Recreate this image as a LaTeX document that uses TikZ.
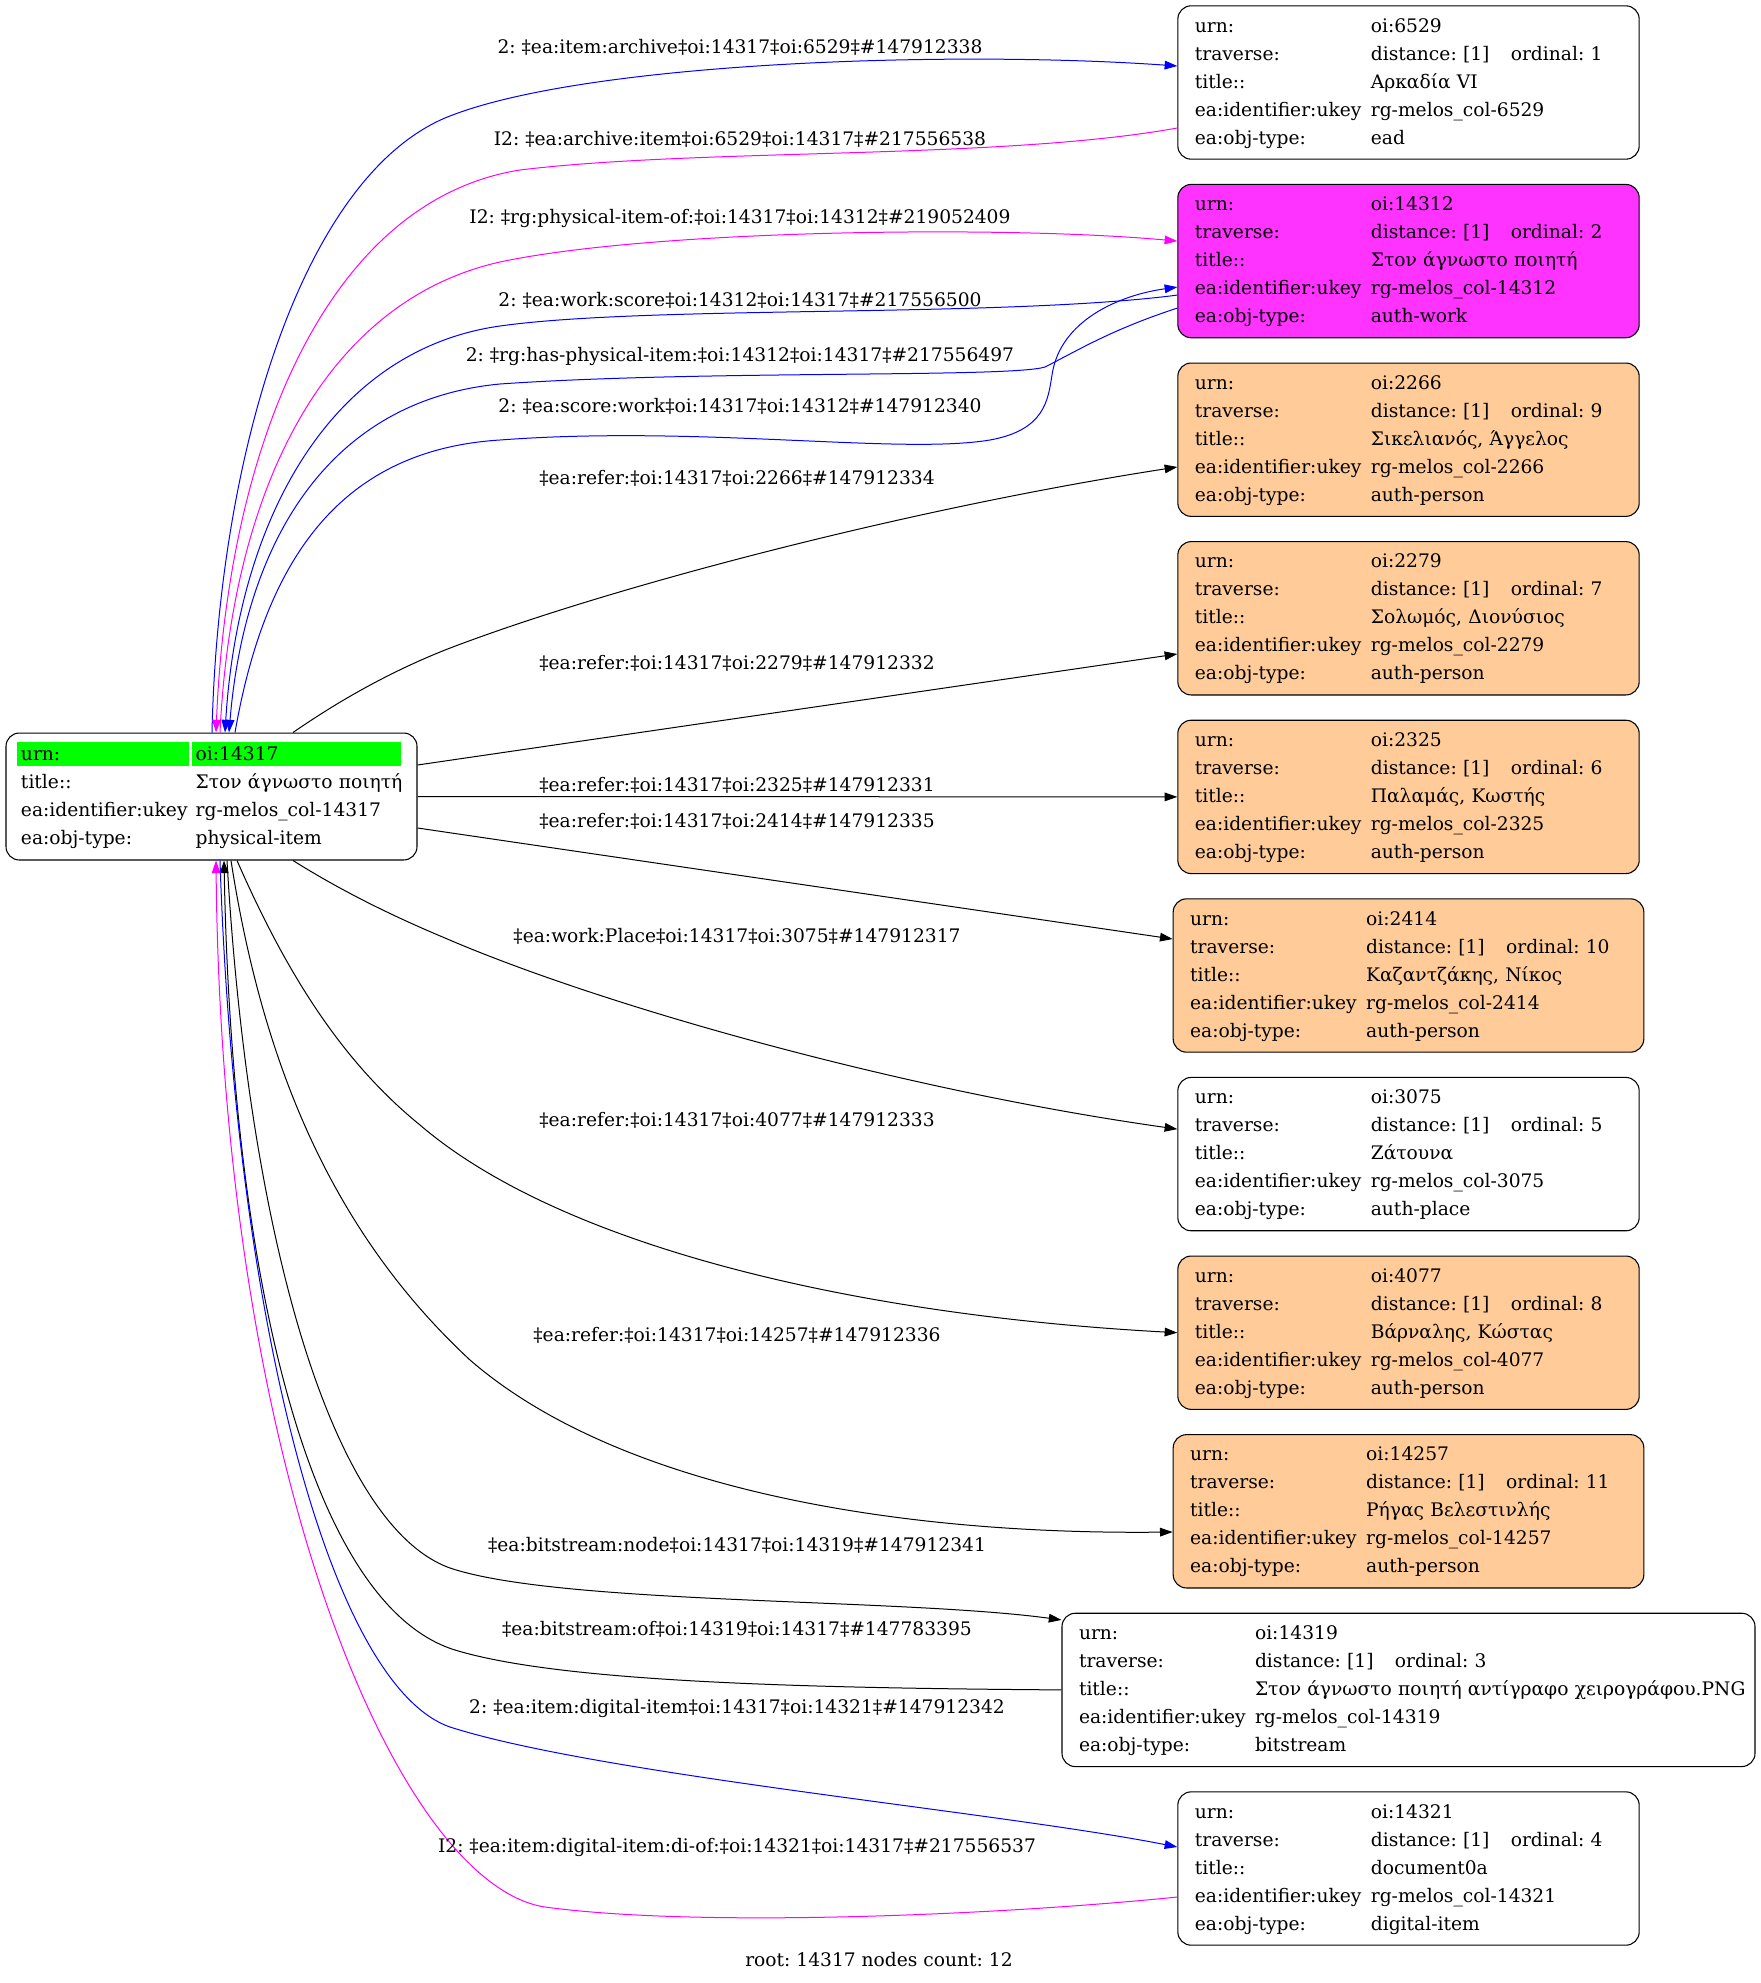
\documentclass[tikz,border=0pt]{standalone}
\usepackage{fontspec}
\setmainfont{DejaVu Serif}
\usetikzlibrary{arrows.meta,calc,backgrounds}
\frenchspacing

\definecolor{peach}{RGB}{255,204,153}
\definecolor{workpink}{RGB}{255,51,255}
\definecolor{relblue}{RGB}{0,0,255}
\definecolor{relpink}{RGB}{255,0,255}
\definecolor{rootgreen}{RGB}{0,255,0}

\newcommand{\objrows}[5]{\noindent\begin{tabular}{@{}p{132pt}@{}l@{}}
urn: & #1\\
traverse: & \makebox[105pt][l]{distance: [1]}ordinal: #2\\
title:: & #3\\
ea:identifier:ukey & #4\\
ea:obj-type: & #5
\end{tabular}}

\tikzset{
  objbox/.style={draw, rounded corners=10pt, line width=0.8pt, inner xsep=12.75pt, inner ysep=5pt, text width=320.5pt, align=left},
  personbox/.style={objbox, fill=peach},
  workbox/.style={objbox, fill=workpink},
  rellabel/.style={inner sep=0pt, text height=10.2pt, text depth=0pt},
  relarrow/.style={line width=0.75pt, -{Triangle[length=9.5pt,width=6.5pt]}},
}

\begin{document}
\begin{tikzpicture}[x=0.75pt, y=-0.75pt, font=\fontsize{14}{21}\selectfont]
\useasboundingbox (0,0) rectangle (1760,1983);

\node[objbox, text width=285.75pt, inner xsep=11.25pt, inner ysep=5.6pt] (root) at (211.5,796.5) {\noindent\begin{tabular}{@{}p{131pt}@{}l@{}}
urn: & oi:14317\\
title:: & Στον άγνωστο ποιητή\\
ea:identifier:ukey & rg-melos\_col-14317\\
ea:obj-type: & physical-item
\end{tabular}};
\begin{scope}[on background layer]
\fill[rootgreen] ($(root.north west)+(12,9)$) rectangle ($(root.north west)+(184,33)$);
\fill[rootgreen] ($(root.north west)+(187,9)$) rectangle ($(root.north west)+(396,33)$);
\end{scope}

\node[objbox] (o6529) at (1408.5,82.5) {\objrows{oi:6529}{1}{Αρκαδία VI}{rg-melos\_col-6529}{ead}};
\node[workbox] (o14312) at (1408.5,261.1) {\objrows{oi:14312}{2}{Στον άγνωστο ποιητή}{rg-melos\_col-14312}{auth-work}};
\node[personbox] (o2266) at (1408.5,439.7) {\objrows{oi:2266}{9}{Σικελιανός, Άγγελος}{rg-melos\_col-2266}{auth-person}};
\node[personbox] (o2279) at (1408.5,618.3) {\objrows{oi:2279}{7}{Σολωμός, Διονύσιος}{rg-melos\_col-2279}{auth-person}};
\node[personbox] (o2325) at (1408.5,796.9) {\objrows{oi:2325}{6}{Παλαμάς, Κωστής}{rg-melos\_col-2325}{auth-person}};
\node[personbox, text width=327.5pt] (o2414) at (1408.5,975.5) {\objrows{oi:2414}{10}{Καζαντζάκης, Νίκος}{rg-melos\_col-2414}{auth-person}};
\node[objbox] (o3075) at (1408.5,1154.1) {\objrows{oi:3075}{5}{Ζάτουνα}{rg-melos\_col-3075}{auth-place}};
\node[personbox] (o4077) at (1408.5,1332.7) {\objrows{oi:4077}{8}{Βάρναλης, Κώστας}{rg-melos\_col-4077}{auth-person}};
\node[personbox, text width=327.5pt] (o14257) at (1408.5,1511.3) {\objrows{oi:14257}{11}{Ρήγας Βελεστινλής}{rg-melos\_col-14257}{auth-person}};
\node[objbox, text width=494.25pt] (o14319) at (1408.5,1689.9) {\objrows{oi:14319}{3}{Στον άγνωστο ποιητή αντίγραφο χειρογράφου.PNG}{rg-melos\_col-14319}{bitstream}};
\node[objbox] (o14321) at (1408.5,1868.5) {\objrows{oi:14321}{4}{document0a}{rg-melos\_col-14321}{digital-item}};

% upper relations
\draw[relarrow, relblue] ($(root.north)+(0.5,0)$) .. controls (218,460) and (300,180) .. (445,118) .. controls (580,62) and (950,50) .. ($(o6529.west)+(0,-16.5)$);
\draw[relarrow, relpink] ($(o6529.west)+(0,45.5)$) .. controls (1000,160) and (700,148) .. (520,170) .. controls (330,200) and (228,440) .. ($(root.north)+(4.5,0)$);
\draw[relarrow, relpink] ($(root.north)+(8.5,0)$) .. controls (232,480) and (330,300) .. (500,262) .. controls (650,230) and (1000,225) .. ($(o14312.west)+(0,-20)$);
\draw[relarrow, relblue] ($(o14312.west)+(0,34)$) .. controls (1000,318) and (650,305) .. (500,326) .. controls (330,350) and (238,520) .. ($(root.north)+(13.5,0)$);
\draw[relarrow, relblue] ($(o14312.west)+(0,47)$) .. controls (1110,330) and (1075,352) .. (1045,367) .. controls (1010,378) and (700,370) .. (500,384) .. controls (330,400) and (245,540) .. ($(root.north)+(17.5,0)$);
\draw[relarrow, relblue] ($(root.north)+(23.5,0)$) .. controls (265,560) and (340,450) .. (500,440) .. controls (700,425) and (900,455) .. (990,440) .. controls (1045,430) and (1048,400) .. (1052,375) .. controls (1060,320) and (1120,295) .. ($(o14312.west)+(0,26)$);

% refer relations
\draw[relarrow] ($(root.north)+(81.5,0)$) .. controls (340,700) and (390,672) .. (445,650) .. controls (600,590) and (900,510) .. ($(o2266.west)+(0,27.3)$);
\draw[relarrow] ($(root.east)+(0,-31.5)$) -- ($(o2279.west)+(0,35.7)$);
\draw[relarrow] (root.east) -- (o2325.west);
\draw[relarrow] ($(root.east)+(0,31.5)$) -- ($(o2414.west)+(0,-36.5)$);
\draw[relarrow] ($(root.south)+(81.5,0)$) .. controls (340,890) and (390,915) .. (445,938) .. controls (600,1005) and (900,1090) .. ($(o3075.west)+(0,-25)$);
\draw[relarrow] ($(root.south)+(25.5,0)$) .. controls (285,970) and (340,1060) .. (420,1125) .. controls (560,1245) and (850,1315) .. (o4077.west);
\draw[relarrow] ($(root.south)+(19.5,0)$) .. controls (262,1060) and (330,1230) .. (470,1360) .. controls (620,1490) and (900,1535) .. ($(o14257.west)+(0,20.7)$);

% lower relations
\draw[relarrow] ($(root.south)+(15.5,0)$) .. controls (248,1230) and (330,1525) .. (450,1568) .. controls (560,1605) and (900,1598) .. ($(o14319.west)+(0,-70)$);
\draw[relarrow] (o14319.west) .. controls (800,1688) and (560,1682) .. (455,1650) .. controls (310,1605) and (232,1280) .. ($(root.south)+(12.5,0)$);
\draw[relarrow, relblue] ($(root.south)+(8.5,0)$) .. controls (235,1320) and (330,1685) .. (450,1727) .. controls (600,1775) and (1000,1812) .. ($(o14321.west)+(0,-21.5)$);
\draw[relarrow, relpink] ($(o14321.west)+(0,28.5)$) .. controls (1000,1915) and (700,1928) .. (545,1907) .. controls (400,1885) and (222,1480) .. ($(root.south)+(4.5,0)$);

\node[rellabel] (l6529a) at (740,47) {2: ‡ea:item:archive‡oi:14317‡oi:6529‡\#147912338};
\node[rellabel] (l6529b) at (740,139) {I2: ‡ea:archive:item‡oi:6529‡oi:14317‡\#217556538};
\node[rellabel] (l14312a) at (740,217) {I2: ‡rg:physical-item-of:‡oi:14317‡oi:14312‡\#219052409};
\node[rellabel] (l14312b) at (740,300) {2: ‡ea:work:score‡oi:14312‡oi:14317‡\#217556500};
\node[rellabel] (l14312c) at (740,355) {2: ‡rg:has-physical-item:‡oi:14312‡oi:14317‡\#217556497};
\node[rellabel] (l14312d) at (740,406) {2: ‡ea:score:work‡oi:14317‡oi:14312‡\#147912340};
\node[rellabel] (l2266) at (737,478) {‡ea:refer:‡oi:14317‡oi:2266‡\#147912334};
\node[rellabel] (l2279) at (737,663) {‡ea:refer:‡oi:14317‡oi:2279‡\#147912332};
\node[rellabel] (l2325) at (737,785) {‡ea:refer:‡oi:14317‡oi:2325‡\#147912331};
\node[rellabel] (l2414) at (737,821) {‡ea:refer:‡oi:14317‡oi:2414‡\#147912335};
\node[rellabel] (l3075) at (737,936) {‡ea:work:Place‡oi:14317‡oi:3075‡\#147912317};
\node[rellabel] (l4077) at (737,1120) {‡ea:refer:‡oi:14317‡oi:4077‡\#147912333};
\node[rellabel] (l14257) at (737,1335) {‡ea:refer:‡oi:14317‡oi:14257‡\#147912336};
\node[rellabel] (l14319a) at (737,1545) {‡ea:bitstream:node‡oi:14317‡oi:14319‡\#147912341};
\node[rellabel] (l14319b) at (737,1629) {‡ea:bitstream:of‡oi:14319‡oi:14317‡\#147783395};
\node[rellabel] (l14321a) at (737,1707) {2: ‡ea:item:digital-item‡oi:14317‡oi:14321‡\#147912342};
\node[rellabel] (l14321b) at (737,1846) {I2: ‡ea:item:digital-item:di-of:‡oi:14321‡oi:14317‡\#217556537};

\node[rellabel] (caption) at (879,1960) {root: 14317 nodes count: 12};
\end{tikzpicture}
\end{document}
